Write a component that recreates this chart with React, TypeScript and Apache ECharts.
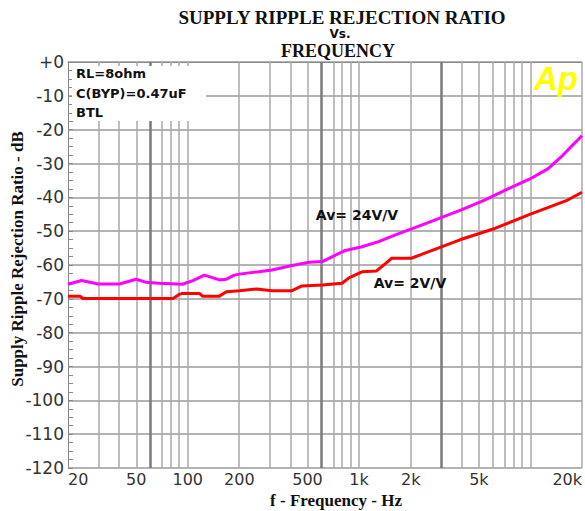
import React, { useEffect, useRef } from "react";
import * as echarts from "echarts";

// ---- data ----
const freq24 = [20, 24, 30, 40, 50, 58, 68, 93, 107, 125, 153, 168, 187, 200, 260, 310, 400, 510, 610, 700, 820, 1040, 1300, 1630, 2530, 3950, 5400, 7400, 10000, 12700, 15500, 17700, 20000];
const db24 = [-65.7, -64.6, -65.6, -65.6, -64.2, -65.2, -65.4, -65.7, -64.6, -63.0, -64.4, -64.2, -63.0, -62.7, -62.0, -61.5, -60.2, -59.2, -59.0, -57.5, -55.8, -54.6, -53.1, -51.1, -47.5, -43.7, -40.8, -37.5, -34.5, -31.5, -27.5, -24.5, -21.8];

const freq2 = [20, 23.5, 24.4, 82, 90, 93, 117, 122, 153, 168, 200, 252, 310, 406, 464, 610, 796, 872, 1040, 1260, 1430, 1550, 2020, 2530, 3950, 6200, 9750, 16500, 20000];
const db2 = [-69.2, -69.2, -69.9, -69.9, -68.6, -68.4, -68.4, -69.2, -69.2, -67.9, -67.6, -67.1, -67.6, -67.6, -66.2, -65.9, -65.4, -63.8, -62.0, -61.8, -59.5, -58.0, -58.0, -56.1, -52.4, -49.2, -45.2, -40.8, -38.5];

const xTickFreqs = [20, 50, 100, 200, 500, 1000, 2000, 5000, 20000];
const xTickLabels = ["20", "50", "100", "200", "500", "1k", "2k", "5k", "20k"];
const gridFreqs = [20, 30, 40, 50, 60, 70, 80, 90, 100, 200, 300, 400, 500, 600, 700, 800, 900, 1000, 2000, 3000, 4000, 5000, 6000, 7000, 8000, 9000, 10000, 20000];
const heavyGridFreqs = [60, 600, 3000];
const yMin = -120;
const yMax = 0;
const yStep = 10;

const lg = (v: number) => Math.log10(v);

export default function App() {
  const ref = useRef<HTMLDivElement>(null);
  useEffect(() => {
    if (!ref.current) return;
    const chart = echarts.init(ref.current, null, { renderer: "svg" });
    const serifBold = "'Liberation Serif', 'DejaVu Serif', serif";
    const sans = "'DejaVu Sans', sans-serif";
    const option: any = {
      animation: false,
      backgroundColor: "#ffffff",
      grid: { left: 68, top: 62, width: 516, height: 406, containLabel: false },
      xAxis: {
        type: "value",
        min: lg(20),
        max: lg(20000),
        axisLine: { show: true, lineStyle: { color: "#888", width: 1 } },
        axisTick: { show: false },
        splitLine: { show: false },
        axisLabel: {
          customValues: xTickFreqs.map(lg),
          formatter: (v: number) => {
            let best = 0;
            for (let i = 0; i < xTickFreqs.length; i++) {
              if (Math.abs(lg(xTickFreqs[i]) - v) < Math.abs(lg(xTickFreqs[best]) - v)) best = i;
            }
            return xTickLabels[best];
          },
          alignMinLabel: "left",
          alignMaxLabel: "right",
          fontFamily: sans,
          fontSize: 16,
          color: "#333",
          margin: 3,
        },
      },
      yAxis: {
        type: "value",
        min: yMin,
        max: yMax,
        interval: yStep,
        axisLine: { show: true, lineStyle: { color: "#888", width: 1 } },
        axisTick: { show: true, inside: true, length: 5, lineStyle: { color: "#888" } },
        minorTick: { show: true, splitNumber: 4, length: 5, lineStyle: { color: "#888" } },
        splitLine: { show: true, lineStyle: { color: "#9a9a9a", width: 1.5 } },
        axisLabel: {
          formatter: (v: number) => (v === 0 ? "+0" : String(v)),
          fontFamily: sans,
          fontSize: 17,
          color: "#333",
          margin: 4,
        },
      },
      series: [
        {
          type: "line",
          data: [],
          silent: true,
          z: 1,
          markLine: {
            silent: true,
            symbol: ["none", "none"],
            label: { show: false },
            animation: false,
            data: gridFreqs.map((f) => ({
              xAxis: lg(f),
              lineStyle: heavyGridFreqs.includes(f)
                ? { color: "#7a7a7a", width: 2.5, type: "solid" }
                : { color: "#a8a8a8", width: 1.5, type: "solid" },
            })),
          },
        },
        {
          name: "Av= 24V/V",
          type: "line",
          z: 5,
          symbol: "none",
          data: freq24.map((f, i) => [lg(f), db24[i]]),
          lineStyle: { color: "#ff00ff", width: 3 },
        },
        {
          name: "Av= 2V/V",
          type: "line",
          z: 5,
          symbol: "none",
          data: freq2.map((f, i) => [lg(f), db2[i]]),
          lineStyle: { color: "#ff0000", width: 3 },
        },
      ],
      graphic: [
        { type: "rect", z: 100, shape: { x: 72, y: 66, width: 134, height: 55 }, style: { fill: "#ffffff" } },
        { type: "text", z: 101, x: 76, y: 73, style: { text: "RL=8ohm", font: `bold 13px ${sans}`, fill: "#111", verticalAlign: "middle" } },
        { type: "text", z: 101, x: 76, y: 93, style: { text: "C(BYP)=0.47uF", font: `bold 13px ${sans}`, fill: "#111", verticalAlign: "middle" } },
        { type: "text", z: 101, x: 76, y: 112, style: { text: "BTL", font: `bold 13px ${sans}`, fill: "#111", verticalAlign: "middle" } },
        { type: "text", z: 101, x: 534, y: 78, style: { text: "Ap", font: "italic bold 33px 'Liberation Sans', Arial, sans-serif", fill: "#ffff00", verticalAlign: "middle" } },
        { type: "text", z: 101, x: 342, y: 17, style: { text: "SUPPLY RIPPLE REJECTION RATIO", font: `bold 19px ${serifBold}`, fill: "#111", textAlign: "center", verticalAlign: "middle" } },
        { type: "text", z: 101, x: 340, y: 34, style: { text: "Vs.", font: `bold 12px ${sans}`, fill: "#111", textAlign: "center", verticalAlign: "middle" } },
        { type: "text", z: 101, x: 338, y: 51, style: { text: "FREQUENCY", font: `bold 18px ${serifBold}`, fill: "#111", textAlign: "center", verticalAlign: "middle" } },
        { type: "text", z: 101, x: 336, y: 500, style: { text: "f - Frequency - Hz", font: `bold 17px ${serifBold}`, fill: "#111", textAlign: "center", verticalAlign: "middle" } },
        { type: "text", z: 101, x: 17, y: 259, rotation: Math.PI / 2, style: { text: "Supply Ripple Rejection Ratio - dB", font: `bold 17px ${serifBold}`, fill: "#111", textAlign: "center", verticalAlign: "middle" } },
        { type: "text", z: 101, x: 357, y: 215, style: { text: "Av= 24V/V", font: `bold 14px ${sans}`, fill: "#111", textAlign: "center", verticalAlign: "middle" } },
        { type: "text", z: 101, x: 410, y: 283, style: { text: "Av= 2V/V", font: `bold 14px ${sans}`, fill: "#111", textAlign: "center", verticalAlign: "middle" } },
      ],
    };
    chart.setOption(option);
    return () => chart.dispose();
  }, []);
  return (
    <div
      ref={ref}
      style={{ position: "fixed", left: 0, top: 0, width: 585, height: 511, background: "#fff" }}
    />
  );
}
